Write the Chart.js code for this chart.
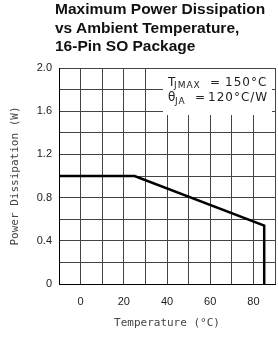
<!DOCTYPE html>
<html>
<head>
<meta charset="utf-8">
<script src="https://cdn.jsdelivr.net/npm/chart.js@4"></script>
<style>
  html, body { margin: 0; padding: 0; background: #fff; }
  #wrap { position: relative; width: 278px; height: 339px; }
  #title {
    position: absolute; left: 55px; top: 0px;
    font: bold 15.5px "Liberation Sans", Arial, sans-serif;
    line-height: 18.5px; color: #111;
  }
  canvas { position: absolute; left: 0; top: 0; }
</style>
</head>
<body>
<div id="wrap">
  <canvas id="chart-pd" width="278" height="339"></canvas>
  <div id="title">Maximum Power Dissipation<br>vs Ambient Temperature,<br>16-Pin SO Package</div>
</div>
<script>
// derating curve, 16-pin SO
const tempC = [-10, 25, 85, 85];
const powerW = [1.0, 1.0, 0.54, 0];
const xTickLabels = [0, 20, 40, 60, 80];
const yTickLabels = [0, 0.4, 0.8, 1.2, 1.6, 2.0];

const points = tempC.map((t, i) => ({ x: t, y: powerW[i] }));

Chart.defaults.font.family = '"Liberation Sans", Arial, sans-serif';
Chart.defaults.font.size = 11;
Chart.defaults.color = '#222';

// white box with the thermal data, top right of the plot
const noteBox = {
    id: 'noteBox',
    beforeDatasetsDraw(chart) {
        const c = chart.ctx;
        const a = chart.chartArea;
        c.save();
        c.fillStyle = '#fff';
        c.fillRect(163, a.top + 1, a.right - 3 - 163, 46);
        c.fillStyle = '#222';
        c.textBaseline = 'alphabetic';
        c.textAlign = 'left';
        c.letterSpacing = '1px';
        const big = '12px "DejaVu Sans", sans-serif';
        const small = '9px "DejaVu Sans", sans-serif';
        // line 1
        c.font = big;
        c.fillText('T', 168, 85.5);
        c.font = small;
        c.fillText('JMAX', 174, 88);
        c.font = big;
        c.fillText('=', 210, 85.5);
        c.fillText('150°C', 225, 85.5);
        // line 2
        c.fillText('θ', 168, 101);
        c.font = small;
        c.fillText('JA', 175, 104);
        c.font = big;
        c.fillText('=', 195, 101);
        c.fillText('120°C/W', 208, 101);
        c.restore();
    }
};

new Chart(document.getElementById('chart-pd'), {
    type: 'scatter',
    data: {
        datasets: [{
            data: points,
            showLine: true,
            borderColor: '#000',
            borderWidth: 2.5,
            pointRadius: 0,
            tension: 0,
            fill: false
        }]
    },
    options: {
        responsive: false,
        animation: false,
        events: [],
        layout: { padding: { top: 68, right: 3, left: 0, bottom: 0 } },
        plugins: {
            legend: { display: false },
            tooltip: { enabled: false }
        },
        scales: {
            x: {
                type: 'linear',
                min: -10, max: 90,
                afterFit: s => { s.height = 55; s.paddingLeft = 0; s.paddingRight = 0; },
                grid: { color: '#444', drawTicks: false },
                border: { color: '#000' },
                ticks: {
                    stepSize: 10, autoSkip: false, maxRotation: 0, padding: 11,
                    callback: v => xTickLabels.includes(v) ? String(v) : ''
                },
                title: {
                    display: true, text: 'Temperature (°C)', color: '#444',
                    font: { family: '"DejaVu Sans Mono", monospace', size: 11 },
                    padding: { top: 0, bottom: 9 }
                }
            },
            y: {
                min: 0, max: 2,
                afterFit: s => { s.width = 59; },
                grid: { color: '#444', drawTicks: false },
                border: { color: '#000' },
                ticks: {
                    stepSize: 0.2, autoSkip: false, padding: 7,
                    callback: v => {
                        const hit = yTickLabels.find(t => Math.abs(t - v) < 1e-6);
                        if (hit === undefined) return '';
                        return hit === 0 ? '0' : hit.toFixed(1);
                    }
                },
                title: {
                    display: true, text: 'Power Dissipation (W)', color: '#444',
                    font: { family: '"DejaVu Sans Mono", monospace', size: 11 },
                    padding: { top: 9, bottom: 0 }
                }
            }
        }
    },
    plugins: [noteBox]
});
</script>
</body>
</html>
